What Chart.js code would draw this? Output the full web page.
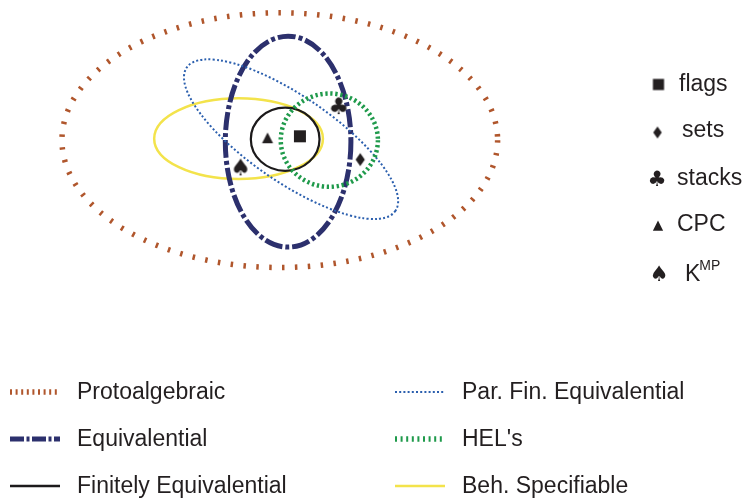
<!DOCTYPE html>
<html>
<head>
<meta charset="utf-8">
<script src="https://cdn.jsdelivr.net/npm/chart.js@4.4.1/dist/chart.umd.min.js"></script>
<style>
  body { margin: 0; background: #fff; }
  #chart { display: block; }
</style>
</head>
<body>
<canvas id="chart" width="745" height="501"></canvas>
<script>
// clases (elipses): centro, semiejes y giro, en unidades del diagrama
const clases = ['Protoalgebraic', 'Beh. Specifiable', 'Equivalential', 'Par. Fin. Equivalential', 'Finitely Equivalential', "HEL's"];
const centroX = [278, 236, 286.5, 289.5, 283.5, 328.5];
const centroY = [137, 135.5, 138.5, 136, 136, 137];
const radioX = [222, 86, 64, 129, 35, 49.5];
const radioY = [131, 41.5, 108.5, 44, 32.5, 48];
const giro = [0, 0, 0, 34.5, 0, 0];

// ejemplos (simbolos dentro del diagrama)
const ejemplos = ['flags', 'sets', 'stacks', 'CPC', 'K'];
const simbolos = ['square', 'diamond', 'club', 'triangle', 'spade'];
const ejemploX = [298.5, 360, 338, 265.5, 238];
const ejemploY = [133, 157, 103, 135, 166];

// orden de la leyenda de abajo (columna izquierda, luego derecha)
const leyendaIzq = ['Protoalgebraic', 'Equivalential', 'Finitely Equivalential'];
const leyendaDer = ['Par. Fin. Equivalential', "HEL's", 'Beh. Specifiable'];

const estilos = {
    'Protoalgebraic':          { color: '#b0562c', ancho: 5.5, dash: [2.5, 10.4],     legAncho: 5.5, legDash: [2, 3.6] },
    'Beh. Specifiable':        { color: '#f3e34b', ancho: 2.5, dash: [],              legAncho: 2.5, legDash: [] },
    'Equivalential':           { color: '#2c306d', ancho: 5,   dash: [18, 3, 4, 3],   legAncho: 5,   legDash: [14, 2.5, 3, 2.5] },
    'Par. Fin. Equivalential': { color: '#2b5fae', ancho: 2,   dash: [2, 2.2],        legAncho: 2,   legDash: [2, 2.2] },
    'Finitely Equivalential':  { color: '#1c1a1b', ancho: 2.2, dash: [],              legAncho: 2.5, legDash: [] },
    "HEL's":                   { color: '#1f9a4b', ancho: 4.5, dash: [2.3, 2.7],      legAncho: 5.5, legDash: [2, 3.6] }
};

const TINTA = '#231f20';
const FUENTE = '"Liberation Sans", Arial, Helvetica, sans-serif';

function crearSimbolo(tipo, escala) {
    const c = document.createElement('canvas');
    c.width = 26; c.height = 26;
    const g = c.getContext('2d');
    g.fillStyle = TINTA;
    g.translate(13, 13);
    g.scale(escala, escala);
    g.beginPath();
    if (tipo === 'square') {
        g.rect(-6, -6, 12, 12);
        g.fill();
    } else if (tipo === 'diamond') {
        g.moveTo(0, -6.5); g.lineTo(4.6, 0); g.lineTo(0, 6.5); g.lineTo(-4.6, 0);
        g.closePath();
        g.fill();
    } else if (tipo === 'triangle') {
        g.moveTo(0, -5.8); g.lineTo(5.5, 5); g.lineTo(-5.5, 5);
        g.closePath();
        g.fill();
    } else {
        g.font = '23px "DejaVu Sans"';
        g.textAlign = 'center';
        g.textBaseline = 'middle';
        g.fillText(tipo === 'club' ? '\u2663' : '\u2660', 0, 1);
    }
    return c;
}

const simbolosGrandes = simbolos.map(s => crearSimbolo(s, 1));
const simbolosChicos = simbolos.map(s => crearSimbolo(s, 0.93));

// dibuja las elipses usando las escalas del grafico
const pluginElipses = {
    id: 'elipses',
    beforeDatasetsDraw(chart) {
        const { ctx, scales: { x, y } } = chart;
        clases.forEach((nombre, i) => {
            const est = estilos[nombre];
            const px = x.getPixelForValue(centroX[i]);
            const py = y.getPixelForValue(centroY[i]);
            const rx = Math.abs(x.getPixelForValue(centroX[i] + radioX[i]) - px);
            const ry = Math.abs(y.getPixelForValue(centroY[i] + radioY[i]) - py);
            ctx.save();
            ctx.strokeStyle = est.color;
            ctx.lineWidth = est.ancho;
            ctx.setLineDash(est.dash);
            ctx.beginPath();
            ctx.ellipse(px, py, rx, ry, giro[i] * Math.PI / 180, 0, Math.PI * 2);
            ctx.stroke();
            ctx.restore();
        });
    }
};

// leyendas: simbolos a la derecha y estilos de linea abajo
const pluginLeyendas = {
    id: 'leyendas',
    afterDraw(chart) {
        const ctx = chart.ctx;
        ctx.save();
        ctx.fillStyle = TINTA;
        ctx.textBaseline = 'alphabetic';
        ctx.textAlign = 'left';

        // simbolos
        const simX = [658.5, 657.5, 657, 658, 659];
        const simY = [84.5, 132.5, 180, 226, 275];
        const txtX = [679, 682, 677, 677, 685];
        const txtY = [91, 137, 185, 231, 281];
        ejemplos.forEach((e, i) => {
            const img = simbolosChicos[i];
            ctx.drawImage(img, simX[i] - img.width / 2, simY[i] - img.height / 2);
            ctx.font = '23px ' + FUENTE;
            ctx.fillText(e, txtX[i], txtY[i]);
        });
        const anchoK = ctx.measureText('K').width;
        ctx.font = '14px ' + FUENTE;
        ctx.fillText('MP', txtX[4] + anchoK - 1, 270);

        // estilos de linea
        const base = [399, 446, 493];
        const columnas = [[leyendaIzq, 10, 77], [leyendaDer, 395, 462]];
        columnas.forEach(([lista, x0, xt]) => {
            lista.forEach((nombre, j) => {
                const est = estilos[nombre];
                const yl = base[j] - 7;
                ctx.save();
                ctx.strokeStyle = est.color;
                ctx.lineWidth = est.legAncho;
                ctx.setLineDash(est.legDash);
                ctx.beginPath();
                ctx.moveTo(x0, yl);
                ctx.lineTo(x0 + 50, yl);
                ctx.stroke();
                ctx.restore();
                ctx.font = '23px ' + FUENTE;
                ctx.fillText(nombre, xt, base[j]);
            });
        });
        ctx.restore();
    }
};

const ctx = document.getElementById('chart').getContext('2d');
const myChart = new Chart(ctx, {
    type: 'scatter',
    data: {
        datasets: [{
            label: 'ejemplos',
            data: ejemplos.map((e, i) => ({ x: ejemploX[i], y: ejemploY[i] })),
            pointStyle: simbolosGrandes,
            pointRadius: 6,
            pointHoverRadius: 6,
            backgroundColor: TINTA,
            borderColor: TINTA
        }]
    },
    options: {
        responsive: false,
        animation: false,
        layout: { padding: 0 },
        scales: {
            x: { display: false, min: 0, max: 745 },
            y: { display: false, min: 0, max: 501, reverse: true }
        },
        plugins: {
            legend: { display: false },
            tooltip: { enabled: false }
        }
    },
    plugins: [pluginElipses, pluginLeyendas]
});
</script>
</body>
</html>
